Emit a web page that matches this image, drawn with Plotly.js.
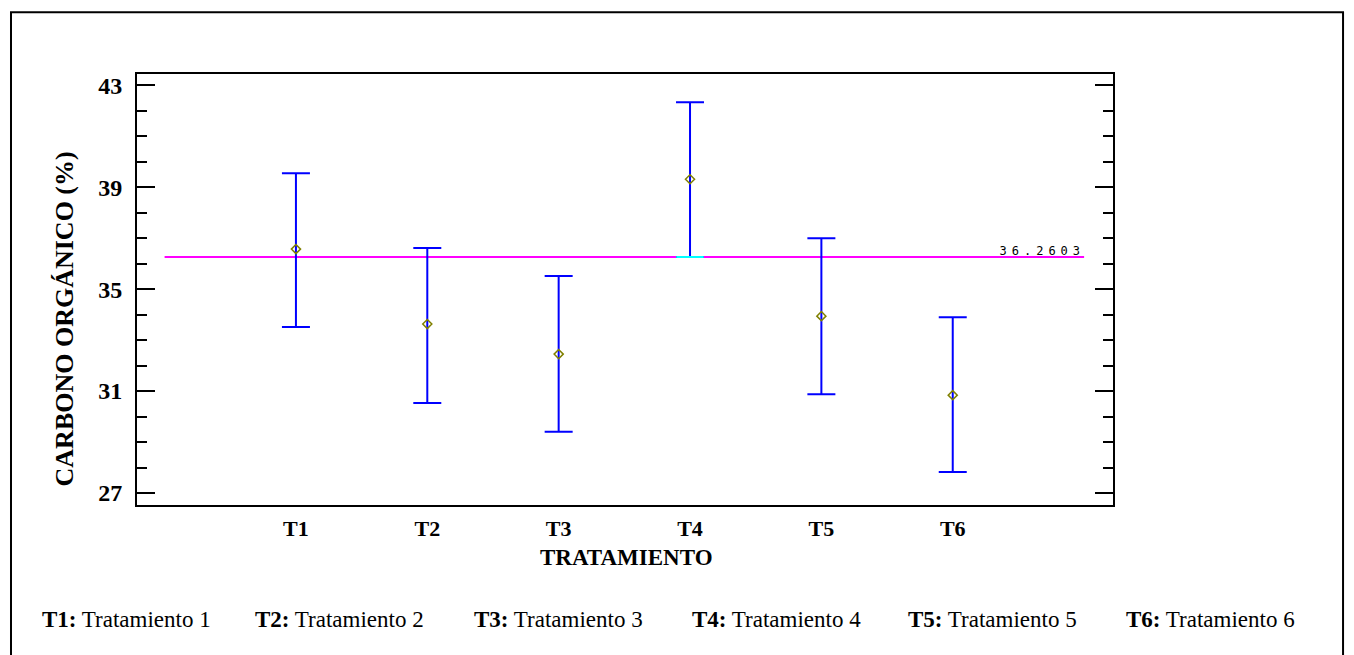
<!DOCTYPE html>
<html>
<head>
<meta charset="utf-8">
<script src="https://cdn.plot.ly/plotly-3.0.1.min.js"></script>
<style>
  html, body { margin: 0; padding: 0; background: #fff; }
  #chart { width: 1354px; height: 655px; }
  .annotation[data-index="0"] text { letter-spacing: 5px; }
</style>
</head>
<body>
<div id="chart"></div>
<script>
// ---- data ----
const categories = ["T1", "T2", "T3", "T4", "T5", "T6"];
const means = [36.57, 33.63, 32.45, 39.31, 33.94, 30.84];
const upper = [39.55, 36.61, 35.51, 42.33, 37.00, 33.90];
const lower = [33.51, 30.53, 29.40, 36.26, 30.88, 27.82];
const grandMean = 36.2603;
const grandMeanLabel = "36.2603";
const legendCodes = ["T1:", "T2:", "T3:", "T4:", "T5:", "T6:"];
const legendNames = ["Tratamiento 1", "Tratamiento 2", "Tratamiento 3", "Tratamiento 4", "Tratamiento 5", "Tratamiento 6"];
const yTickVals = [27, 31, 35, 39, 43];
const xTitle = "TRATAMIENTO";
const yTitle = "CARBONO ORGÁNICO (%)";

// ---- derived ----
const xPos = categories.map((c, i) => i + 1);
const errPlus = upper.map((u, i) => u - means[i]);
const errMinus = means.map((m, i) => m - lower[i]);

const serif = "Liberation Serif, Times New Roman, serif";

const traces = [
  {
    x: [0, categories.length + 1],
    y: [grandMean, grandMean],
    mode: "lines",
    line: { color: "#ff00ff", width: 2 },
    hoverinfo: "skip",
    showlegend: false
  },
  {
    x: xPos,
    y: means,
    mode: "markers",
    marker: { symbol: "diamond-open", size: 7, color: "#808000", line: { width: 1.5, color: "#808000" } },
    error_y: {
      type: "data", symmetric: false,
      array: errPlus, arrayminus: errMinus,
      color: "#0000ff", thickness: 2, width: 14
    },
    showlegend: false
  }
];

// cyan highlight where an interval end touches the grand-mean line
const shapes = [];
lower.forEach((l, i) => {
  if (Math.abs(l - grandMean) < 0.1) {
    shapes.push({ type: "line", xref: "x", yref: "y", x0: xPos[i] - 0.105, x1: xPos[i] + 0.105, y0: grandMean, y1: grandMean,
      line: { color: "#00ffff", width: 2 } });
  }
});
// outer frame
shapes.push({ type: "rect", xref: "paper", yref: "paper", x0: -0.1291, x1: 1.2357, y0: -0.36, y1: 1.1435,
  line: { color: "#000", width: 2 }, fillcolor: "rgba(0,0,0,0)", layer: "below" });

const annotations = [
  { x: categories.length + 1, y: grandMean, xref: "x", yref: "y", xanchor: "right", yanchor: "bottom",
    text: grandMeanLabel, showarrow: false, yshift: -3, xshift: -14,
    font: { family: "DejaVu Sans Mono, monospace", size: 12, color: "#000" } },
  { xref: "paper", yref: "paper", x: (64 - 137) / 976, y: (505 - 319) / 432, textangle: -90,
    xanchor: "center", yanchor: "middle", showarrow: false,
    text: "<b>" + yTitle + "</b>", font: { family: serif, size: 26, color: "#000" } },
  { xref: "paper", yref: "paper", x: (626 - 137) / 976, y: (505 - 558) / 432,
    xanchor: "center", yanchor: "middle", showarrow: false,
    text: "<b>" + xTitle + "</b>", font: { family: serif, size: 23, color: "#000" } }
];
const legendX = [40, 253, 472, 690, 906, 1124];
legendCodes.forEach((c, i) => {
  annotations.push({
    xref: "paper", yref: "paper", x: (legendX[i] - 137) / 976, y: (505 - 620) / 432,
    xanchor: "left", yanchor: "middle", showarrow: false,
    text: "<b>" + c + "</b> " + legendNames[i],
    font: { family: serif, size: 23, color: "#000" }
  });
});

const layout = {
  width: 1354, height: 655,
  margin: { l: 137, r: 241, t: 74, b: 150 },
  paper_bgcolor: "#fff", plot_bgcolor: "#fff",
  showlegend: false,
  xaxis: {
    range: [-0.21, 7.22],
    tickmode: "array", tickvals: xPos, ticktext: categories,
    ticks: "", showgrid: false, zeroline: false,
    showline: true, mirror: true, linecolor: "#000", linewidth: 2,
    tickfont: { family: serif, size: 22, color: "#000", weight: "bold" },
    ticklabelstandoff: 3
  },
  yaxis: {
    range: [26.53, 43.44],
    tickmode: "array", tickvals: yTickVals,
    ticks: "inside", ticklen: 18, tickwidth: 2, tickcolor: "#000",
    minor: { dtick: 1, ticks: "inside", ticklen: 10, tickwidth: 2, tickcolor: "#000", showgrid: false },
    showgrid: false, zeroline: false,
    showline: true, mirror: "ticks", linecolor: "#000", linewidth: 2,
    tickfont: { family: serif, size: 24, color: "#000", weight: "bold" },
    ticklabelstandoff: 8
  },
  shapes: shapes,
  annotations: annotations
};

Plotly.newPlot("chart", traces, layout, { displayModeBar: false, staticPlot: true });
</script>
</body>
</html>
